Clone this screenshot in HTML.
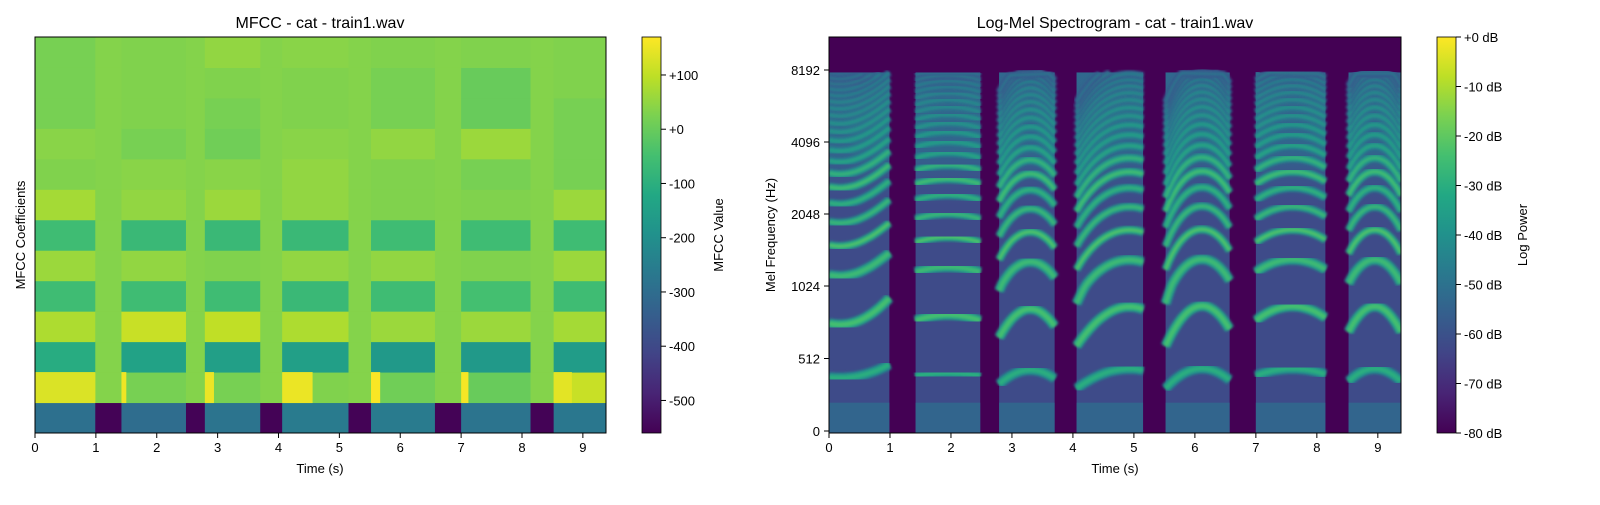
<!DOCTYPE html>
<html><head><meta charset="utf-8"><style>
html,body{margin:0;padding:0;background:#fff;}
svg text{font-family:"Liberation Sans",sans-serif;fill:#000;}
</style></head><body>
<svg id="root" width="1600" height="500" viewBox="0 0 1600 500" xmlns="http://www.w3.org/2000/svg">
<defs>
<linearGradient id="vir" x1="0" y1="1" x2="0" y2="0">
<stop offset="0" stop-color="#440154"/><stop offset="0.1" stop-color="#482475"/><stop offset="0.2" stop-color="#414487"/><stop offset="0.3" stop-color="#355f8d"/><stop offset="0.4" stop-color="#2a788e"/><stop offset="0.5" stop-color="#21918c"/><stop offset="0.6" stop-color="#22a884"/><stop offset="0.7" stop-color="#44bf70"/><stop offset="0.8" stop-color="#7ad151"/><stop offset="0.9" stop-color="#bddf26"/><stop offset="1" stop-color="#fde725"/>
</linearGradient>
<linearGradient id="upper" x1="0" y1="1" x2="0" y2="0">
<stop offset="0" stop-color="#3b528b" stop-opacity="0"/><stop offset="0.4" stop-color="#2f6b8e" stop-opacity="0.8"/><stop offset="1" stop-color="#2f6b8e" stop-opacity="0.9"/>
</linearGradient>
<filter id="blur"><feGaussianBlur stdDeviation="1.2"/></filter>
<clipPath id="clipL"><rect x="35" y="37" width="571" height="396"/></clipPath>
<clipPath id="clipR"><rect x="829" y="37" width="572" height="396"/></clipPath>
</defs>
<g id="mfcc" clip-path="url(#clipL)"></g>
<g id="mel" clip-path="url(#clipR)"></g>
<g id="axes"></g>
<text x="320" y="28" font-size="16" text-anchor="middle">MFCC - cat - train1.wav</text>
<text x="1115" y="28" font-size="16" text-anchor="middle">Log-Mel Spectrogram - cat - train1.wav</text>
<text x="320" y="473" font-size="13" text-anchor="middle">Time (s)</text>
<text x="1115" y="473" font-size="13" text-anchor="middle">Time (s)</text>
<text transform="translate(25,235) rotate(-90)" font-size="13" text-anchor="middle">MFCC Coefficients</text>
<text transform="translate(775,235) rotate(-90)" font-size="13" text-anchor="middle">Mel Frequency (Hz)</text>
<rect x="642" y="37" width="19" height="396" fill="url(#vir)" stroke="#000" stroke-width="0.8"/>
<rect x="1437" y="37" width="19" height="396" fill="url(#vir)" stroke="#000" stroke-width="0.8"/>
<text transform="translate(723,235) rotate(-90)" font-size="13" text-anchor="middle">MFCC Value</text>
<text transform="translate(1527,235) rotate(-90)" font-size="13" text-anchor="middle">Log Power</text>
</svg>
<script>
const segments = [[0,0.99],[1.42,2.48],[2.79,3.70],[4.06,5.15],[5.52,6.57],[7.00,8.14],[8.52,9.38]];
const mfccVoiced = [
 [-290,130,-110,80,-60,60,-60,70,30,40,20,20,20],
 [-300,20,-140,110,-60,50,-70,50,40,20,30,30,30],
 [-280,20,-150,100,-60,30,-70,60,40,10,20,30,50],
 [-260,30,-150,80,-70,50,-70,50,50,40,30,30,40],
 [-260,10,-170,60,-60,50,-60,30,30,50,20,20,30],
 [-280,0,-170,60,-50,30,-60,30,20,60,0,0,30],
 [-270,110,-160,70,-60,60,-60,60,20,20,20,30,30]];
const mfccSilent = [-555,35,35,35,35,35,35,35,35,35,35,35,35];
const onsetValues = [130,155,150,150,165,160,140];
const onsetDur = [0.99,0.08,0.15,0.5,0.15,0.12,0.3];
const f0Contour = [[380,390,470],[390,410,390],[330,430,370],[300,420,430],[300,440,360],[390,440,400],[350,440,350]];
const harmDb = [-30,-24,-26,-22,-26,-28,-24,-27,-30,-32,-33,-35,-36,-38,-39,-40,-42,-43,-45,-46];
const mfccTicks = [100,0,-100,-200,-300,-400,-500];
const dbTicks = [0,-10,-20,-30,-40,-50,-60,-70,-80];
const freqTicks = [0,512,1024,2048,4096,8192];
const timeTicks = [0,1,2,3,4,5,6,7,8,9];

const NS="http://www.w3.org/2000/svg";
const stops=[[0,68,1,84],[.1,72,36,117],[.2,65,68,135],[.3,53,95,141],[.4,42,120,142],[.5,33,145,140],[.6,34,168,132],[.7,68,191,112],[.8,122,209,81],[.9,189,223,38],[1,253,231,37]];
function vir(f){f=Math.max(0,Math.min(1,f));for(let i=1;i<stops.length;i++){if(f<=stops[i][0]){const a=stops[i-1],b=stops[i],u=(f-a[0])/(b[0]-a[0]);return `rgb(${Math.round(a[1]+u*(b[1]-a[1]))},${Math.round(a[2]+u*(b[2]-a[2]))},${Math.round(a[3]+u*(b[3]-a[3]))})`;}}return "rgb(253,231,37)";}
function mk(tag,attrs,parent){const e=document.createElementNS(NS,tag);for(const k in attrs)e.setAttribute(k,attrs[k]);parent.appendChild(e);return e;}
const TMAX=9.38;
const xL=t=>35+t*571/TMAX, xR=t=>829+t*572/TMAX;
const mfccColor=v=>vir((v+560)/730);
const dbColor=d=>vir((d+80)/80);
const yF=f=>f<=1024?431-f*145/1024:286-72*Math.log2(f/1024);
const rowH=396/13;
const gm=document.getElementById('mfcc');
for(let r=0;r<13;r++){
  const e=mk('rect',{x:35,y:433-(r+1)*rowH,width:571,height:rowH+0.5,fill:mfccColor(mfccSilent[r])},gm);
  
  
}
segments.forEach((s,i)=>{
  for(let r=0;r<13;r++){
    const e=mk('rect',{x:xL(s[0]),y:433-(r+1)*rowH,width:xL(s[1])-xL(s[0]),height:rowH+0.5,fill:mfccColor(mfccVoiced[i][r])},gm);
    
    
  }
  const o=mk('rect',{x:xL(s[0]),y:433-2*rowH,width:xL(s[0]+onsetDur[i])-xL(s[0]),height:rowH+0.5,fill:mfccColor(onsetValues[i])},gm);
  
  
});
const gr=document.getElementById('mel');
mk('rect',{x:829,y:37,width:572,height:396,fill:dbColor(-80)},gr);
segments.forEach((s,i)=>{
  const x0=xR(s[0]),w=xR(s[1])-xR(s[0]);
  const b=mk('rect',{x:x0,y:yF(8000),width:w,height:433-yF(8000),fill:dbColor(-62)},gr);
  
  
  const u=mk('rect',{x:x0,y:yF(8000),width:w,height:yF(2200)-yF(8000),fill:'url(#upper)'},gr);
  
  
  const l=mk('rect',{x:x0,y:yF(200),width:w,height:433-yF(200),fill:dbColor(-54)},gr);
  
  
  const c=f0Contour[i];
  const f0=u=>c[0]*(2*u-1)*(u-1)+c[1]*4*u*(1-u)+c[2]*u*(2*u-1);
  harmDb.forEach((db,k)=>{
    const h=k+1;let pts=[];
    for(let j=0;j<=20;j++){const u=j/20;const f=h*f0(u);if(f<8000)pts.push(xR(s[0]+u*(s[1]-s[0])).toFixed(1)+','+yF(f).toFixed(1));}
    if(pts.length<2)return;
    const sw=h<=3?6:(h<=8?4:3);
    const halo=mk('polyline',{points:pts.join(' '),fill:'none',stroke:dbColor(db-12),'stroke-width':sw+4,'stroke-linejoin':'round',filter:'url(#blur)'},gr);
    
    
    const p=mk('polyline',{points:pts.join(' '),fill:'none',stroke:dbColor(db),'stroke-width':sw-1,'stroke-linejoin':'round',filter:'url(#blur)'},gr);
    
    
  });
});
const ga=document.getElementById('axes');
function frame(x,w){const e=mk('rect',{x:x,y:37,width:w,height:396,fill:'none',stroke:'#000','stroke-width':1},ga);}
frame(35,571);frame(829,572);
timeTicks.forEach(t=>{
  [[xL,'mfcc'],[xR,'mel']].forEach(([fx,n])=>{
    mk('line',{x1:fx(t),x2:fx(t),y1:433,y2:438,stroke:'#000'},ga);
    const tx=mk('text',{x:fx(t),y:452,'font-size':13,'text-anchor':'middle'},ga);tx.textContent=t;
    
    
  });
});
freqTicks.forEach(f=>{
  mk('line',{x1:824,x2:829,y1:yF(f),y2:yF(f),stroke:'#000'},ga);
  const tx=mk('text',{x:820,y:yF(f)+5,'font-size':13,'text-anchor':'end'},ga);tx.textContent=f;
  
  
});
mfccTicks.forEach(v=>{
  const y=433-(v+560)/730*396;
  mk('line',{x1:661,x2:666,y1:y,y2:y,stroke:'#000'},ga);
  const tx=mk('text',{x:669,y:y+5,'font-size':13},ga);tx.textContent=(v>=0?'+':'')+v;
  
  
});
dbTicks.forEach(d=>{
  const y=433-(d+80)/80*396;
  mk('line',{x1:1456,x2:1461,y1:y,y2:y,stroke:'#000'},ga);
  const tx=mk('text',{x:1464,y:y+5,'font-size':13},ga);tx.textContent=(d>=0?'+':'')+d+' dB';
  
  
});
</script>
</body></html>
